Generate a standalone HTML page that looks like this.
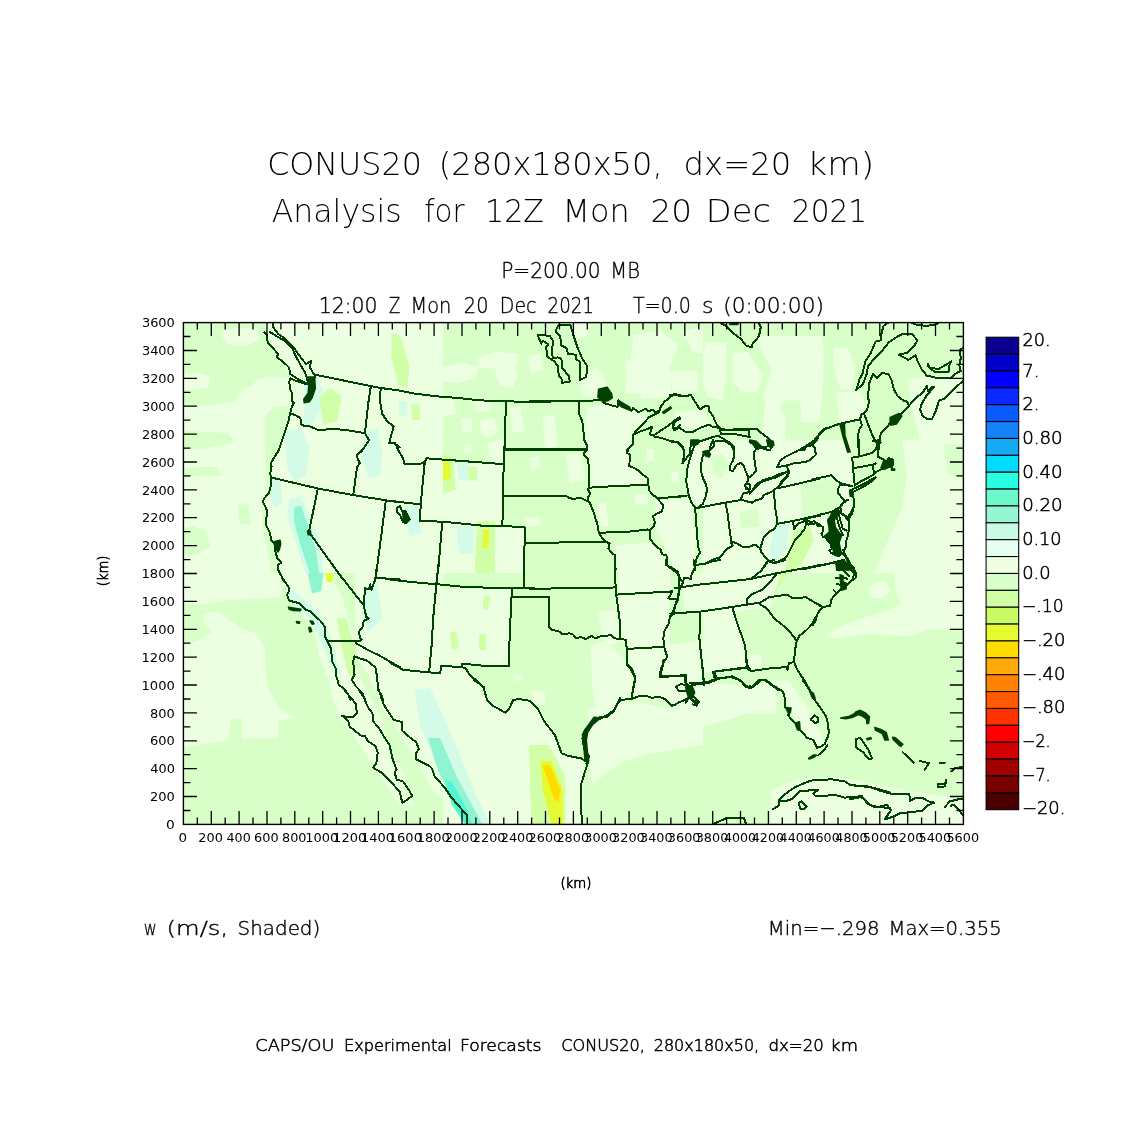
<!DOCTYPE html><html><head><meta charset="utf-8"><title>CONUS20 w</title><style>html,body{margin:0;padding:0;background:#fff;width:1148px;height:1148px;overflow:hidden}svg{display:block}.t{font-family:"DejaVu Sans","Liberation Sans",sans-serif;font-weight:200;fill:#000}.b{font-family:"DejaVu Sans","Liberation Sans",sans-serif;font-weight:400;fill:#000}</style></head><body>
<svg width="1148" height="1148" viewBox="0 0 1148 1148">
<rect width="1148" height="1148" fill="#fff"/>
<defs><clipPath id="mc"><rect x="183.4" y="322.6" width="780.0" height="501.79999999999995"/></clipPath></defs>
<rect x="183.4" y="322.6" width="780.0" height="501.79999999999995" fill="#d8ffc8"/>
<g clip-path="url(#mc)"><path d="M222.6 331.1 237.4 327.7 257.7 328.8 260.0 340.1 246.4 345.8 228.3 344.7 222.6 337.9Z" fill="#ecffe0"/><path d="M183.0 374.1 196.6 373.0 210.2 376.4 207.9 387.7 192.1 390.0 183.0 390.0Z" fill="#ecffe0"/><path d="M183.0 405.8 210.2 405.8 235.1 401.3 241.9 390.0 251.0 385.4 260.0 378.6 273.6 376.4 289.5 378.6 289.5 405.8 273.6 406.9 264.5 417.1 264.5 448.8 266.8 480.6 262.3 503.2 262.3 525.9 266.8 548.5 271.3 573.0 183.0 573.0 183.0 555.3 196.6 555.3 210.2 546.2 205.7 530.4 192.1 525.9 183.0 528.1 183.0 478.3 196.6 476.0 221.5 476.0 217.0 467.0 196.6 467.0 183.0 469.2 183.0 448.8 205.7 448.8 234.0 442.0 228.3 433.0 183.0 430.7Z" fill="#ecffe0"/><path d="M264.5 322.0 443.0 322.0 443.0 573.0 278.1 573.0 273.6 548.5 266.8 525.9 263.4 500.9 269.1 480.6 271.3 462.4 280.4 444.3 289.5 419.4 289.5 376.4 269.1 340.1Z" fill="#ecffe0"/><path d="M237.4 503.2 248.7 505.5 251.0 525.9 239.6 523.6Z" fill="#d8ffc8"/><path d="M303.0 378.6 316.6 376.4 323.4 390.0 318.9 412.6 309.8 428.5 303.0 421.7 305.3 401.3Z" fill="#d4fbe8"/><path d="M284.9 430.7 300.8 428.5 309.8 448.8 305.3 476.0 294.0 480.6 287.2 467.0Z" fill="#d4fbe8"/><path d="M364.2 430.7 377.8 428.5 382.3 448.8 380.1 476.0 368.7 478.3 361.9 457.9Z" fill="#d4fbe8"/><path d="M270.2 478.3 280.4 480.6 282.7 503.2 273.6 507.7 269.1 494.1Z" fill="#d4fbe8"/><path d="M289.5 498.7 300.8 496.4 309.8 516.8 318.9 537.2 323.4 573.0 305.3 573.0 296.3 544.0 287.2 516.8Z" fill="#d4fbe8"/><path d="M294.0 507.7 300.8 505.5 309.8 530.4 316.6 553.0 318.9 573.0 309.8 573.0 300.8 546.2 294.0 521.3Z" fill="#8ef5d0"/><path d="M391.4 333.3 400.4 335.6 409.5 367.3 407.2 387.7 398.2 385.4 391.4 356.0Z" fill="#d0ffa8"/><path d="M318.9 396.7 330.2 387.7 341.6 396.7 337.0 421.7 323.4 423.9Z" fill="#d0ffa8"/><path d="M477.0 358.2 495.1 351.4 517.7 353.7 517.7 365.0 499.6 369.6 479.2 367.3Z" fill="#ecffe0"/><path d="M497.4 360.5 511.0 358.2 517.7 374.1 513.2 387.7 499.6 385.4 495.1 371.8Z" fill="#ecffe0"/><path d="M443.0 367.3 461.1 362.8 479.2 367.3 474.7 378.6 456.6 383.2 443.0 380.9Z" fill="#ecffe0"/><path d="M526.8 356.0 540.4 353.7 542.7 369.6 531.3 374.1Z" fill="#ecffe0"/><path d="M633.3 335.6 660.4 331.1 678.6 344.7 669.5 367.3 671.8 396.7 642.3 399.0 628.7 378.6 631.0 356.0Z" fill="#ecffe0"/><path d="M683.1 331.1 703.0 326.5 703.0 353.7 692.2 351.4Z" fill="#ecffe0"/><path d="M569.8 322.0 590.2 322.0 588.0 335.6 574.4 340.1Z" fill="#ecffe0"/><path d="M578.9 376.4 597.0 367.3 606.1 380.9 601.6 396.7 583.4 396.7Z" fill="#ecffe0"/><path d="M508.7 408.1 520.0 405.8 524.5 430.7 513.2 433.0Z" fill="#ecffe0"/><path d="M542.7 417.1 554.0 414.9 558.5 446.6 544.9 448.8Z" fill="#ecffe0"/><path d="M529.1 457.9 538.1 455.6 540.4 467.0 531.3 469.2Z" fill="#ecffe0"/><path d="M565.3 453.4 581.2 453.4 585.7 480.6 569.8 482.8Z" fill="#ecffe0"/><path d="M588.0 408.1 615.1 401.3 631.0 410.3 646.9 417.1 633.3 430.7 628.7 448.8 635.5 469.2 646.9 480.6 642.3 485.1 590.2 487.3 590.2 457.9 583.4 435.3Z" fill="#ecffe0"/><path d="M635.5 494.1 646.9 494.1 648.0 503.2 636.7 504.3Z" fill="#ecffe0"/><path d="M597.0 503.2 606.1 503.2 608.3 525.9 599.3 525.9Z" fill="#ecffe0"/><path d="M524.5 519.1 538.1 516.8 540.4 525.9 526.8 527.0Z" fill="#ecffe0"/><path d="M443.0 462.4 503.0 464.7 501.9 525.9 524.5 528.1 524.5 573.0 443.0 573.0Z" fill="#ecffe0"/><path d="M443.0 453.4 453.2 457.9 455.5 489.6 443.0 494.1Z" fill="#d0ffa8"/><path d="M443.0 457.9 449.8 461.3 450.9 478.3 443.0 480.6Z" fill="#e6fa32"/><path d="M456.6 462.4 467.9 462.4 467.9 480.6 458.9 480.6Z" fill="#d4fbe8"/><path d="M467.9 467.0 477.0 467.0 477.0 480.6 469.0 480.6Z" fill="#d0ffa8"/><path d="M477.0 521.3 495.1 521.3 495.1 573.0 474.7 573.0Z" fill="#d0ffa8"/><path d="M483.3 529.2 489.4 529.2 488.3 548.5 482.0 547.4Z" fill="#e6fa32"/><path d="M706.1 342.4 726.5 342.4 726.5 376.9 721.8 400.4 707.7 397.3 703.0 384.7 703.0 353.4Z" fill="#ecffe0"/><path d="M732.8 353.4 746.9 351.8 762.6 375.3 757.9 392.6 740.6 391.0 732.8 381.6Z" fill="#ecffe0"/><path d="M756.3 336.1 822.2 336.1 823.7 361.2 822.2 400.4 803.3 400.4 784.5 400.4 778.3 409.8 762.6 397.3 772.0 369.0 762.6 353.4Z" fill="#ecffe0"/><path d="M765.7 400.4 778.3 403.5 786.1 419.2 784.5 452.0 765.7 452.0 762.6 431.8Z" fill="#ecffe0"/><path d="M800.2 397.3 822.2 400.4 819.0 422.3 801.8 422.3Z" fill="#ecffe0"/><path d="M833.1 348.7 847.2 347.1 855.1 365.9 851.9 389.4 841.0 389.4 834.7 373.7Z" fill="#ecffe0"/><path d="M836.3 392.6 859.8 391.0 867.6 409.8 859.8 422.3 839.4 422.3Z" fill="#ecffe0"/><path d="M703.0 440.0 850.2 440.0 852.5 485.3 850.2 514.7 848.0 541.9 843.4 573.0 703.0 573.0Z" fill="#ecffe0"/><path d="M800.4 483.0 836.6 478.5 841.2 508.0 829.8 514.7 802.7 517.0Z" fill="#d8ffc8"/><path d="M712.1 453.6 727.9 455.9 730.2 474.0 716.6 476.2Z" fill="#d8ffc8"/><path d="M739.2 512.5 757.4 508.0 759.6 526.1 741.5 528.3Z" fill="#d8ffc8"/><path d="M775.5 526.1 789.1 523.8 786.8 548.7 773.2 562.3 768.7 553.3Z" fill="#d4fbe8"/><path d="M793.6 530.6 809.5 526.1 814.0 539.7 802.7 562.3 791.3 573.0 784.5 573.0Z" fill="#d0ffa8"/><path d="M902.3 440.0 963.0 440.0 963.0 573.0 875.1 573.0 884.2 548.7 902.3 508.0 906.9 474.0Z" fill="#ecffe0"/><path d="M943.1 440.0 963.0 440.0 963.0 478.5 947.6 474.0Z" fill="#d8ffc8"/><path d="M183.0 573.0 280.4 573.0 282.7 595.7 273.6 597.9 228.3 600.2 196.6 604.7 183.0 602.4Z" fill="#ecffe0"/><path d="M203.4 613.8 217.0 611.5 244.2 629.6 257.7 634.2 264.5 647.7 266.8 686.3 280.4 708.9 296.3 718.0 278.1 720.2 278.1 738.3 241.9 738.3 241.9 718.0 230.6 720.2 228.3 740.6 183.0 747.4 183.0 643.2 196.6 641.0 212.4 631.9 203.4 622.8Z" fill="#ecffe0"/><path d="M282.7 573.0 328.0 573.0 341.6 595.7 355.1 641.0 355.1 663.6 364.2 686.3 382.3 720.2 386.9 742.9 405.0 776.9 414.0 806.3 400.4 806.3 377.8 772.3 359.7 745.1 341.6 720.2 332.5 699.8 328.0 677.2 318.9 654.5 314.4 631.9 300.8 611.5 287.2 595.7Z" fill="#ecffe0"/><path d="M355.1 573.0 443.0 573.0 443.0 799.5 432.2 790.4 420.8 767.8 409.5 749.7 395.9 727.0 382.3 708.9 368.7 674.9 357.4 659.1 355.1 641.0Z" fill="#ecffe0"/><path d="M287.2 586.6 305.3 600.2 323.4 618.3 332.5 641.0 337.0 663.6 341.6 672.7 334.8 674.9 328.0 659.1 318.9 636.4 309.8 618.3 289.5 600.2Z" fill="#d4fbe8"/><path d="M337.0 618.3 346.1 618.3 355.1 647.7 355.1 677.2 348.3 674.9 341.6 647.7Z" fill="#d0ffa8"/><path d="M307.6 573.0 323.4 573.0 321.2 591.1 312.1 593.4Z" fill="#8ef5d0"/><path d="M325.7 573.0 332.5 573.0 332.5 582.1 326.8 582.1Z" fill="#e6fa32"/><path d="M364.2 586.6 377.8 584.3 382.3 618.3 368.7 631.9 361.9 613.8Z" fill="#d4fbe8"/><path d="M443.0 588.9 511.0 588.9 509.8 665.9 461.1 663.6 443.0 665.9Z" fill="#ecffe0"/><path d="M449.8 631.9 456.6 631.9 458.9 647.7 452.1 650.0Z" fill="#d0ffa8"/><path d="M479.2 634.2 486.0 634.2 486.0 650.0 479.2 650.0Z" fill="#d0ffa8"/><path d="M483.8 595.7 490.6 595.7 488.3 609.2 482.6 609.2Z" fill="#d0ffa8"/><path d="M590.2 645.5 606.1 641.0 624.2 659.1 633.3 681.7 631.0 699.8 615.1 708.9 597.0 713.4 592.5 690.8Z" fill="#ecffe0"/><path d="M531.3 690.8 544.9 690.8 546.1 704.4 533.6 705.5Z" fill="#ecffe0"/><path d="M513.2 674.9 522.3 674.9 522.3 680.6 513.2 680.6Z" fill="#ecffe0"/><path d="M617.4 595.7 669.5 593.4 669.5 645.5 624.2 647.7 619.7 622.8Z" fill="#ecffe0"/><path d="M628.7 647.7 662.7 645.5 703.0 641.0 703.0 708.9 680.8 708.9 658.2 699.8 635.5 699.8Z" fill="#ecffe0"/><path d="M443.0 665.9 461.1 663.6 486.0 697.6 506.4 711.2 513.2 702.1 531.3 702.1 556.3 736.1 560.8 754.2 583.4 761.0 583.4 824.0 443.0 824.0Z" fill="#ecffe0"/><path d="M529.1 745.1 549.5 745.1 565.3 776.9 565.3 824.0 531.3 824.0Z" fill="#d0ffa8"/><path d="M540.4 761.0 551.7 761.0 563.0 790.4 563.0 824.0 551.7 824.0 542.7 788.2Z" fill="#e6fa32"/><path d="M542.7 765.5 549.5 764.4 560.8 790.4 558.5 801.8 554.0 799.5Z" fill="#ffdc00"/><path d="M588.0 708.9 615.1 704.4 637.8 702.1 669.5 708.9 703.0 708.9 703.0 745.1 646.9 754.2 624.2 761.0 592.5 783.6 588.0 754.2Z" fill="#ecffe0"/><path d="M703.0 607.0 732.4 607.0 743.8 641.0 748.3 668.1 703.0 672.7Z" fill="#ecffe0"/><path d="M748.3 654.5 761.9 654.5 761.9 668.1 748.3 668.1Z" fill="#ecffe0"/><path d="M743.8 577.5 759.6 573.0 777.7 573.0 761.9 591.1 748.3 609.2 741.5 607.0Z" fill="#d4fbe8"/><path d="M759.6 586.6 777.7 573.0 789.1 573.0 771.0 597.9 759.6 600.2Z" fill="#d0ffa8"/><path d="M771.0 679.5 780.0 690.8 789.1 708.9 800.4 727.0 816.3 747.4 825.3 747.4 816.3 720.2 802.7 699.8 789.1 681.7Z" fill="#ecffe0"/><path d="M703.0 681.7 748.3 686.3 771.0 681.7 777.7 699.8 775.5 713.4 748.3 713.4 703.0 727.0Z" fill="#ecffe0"/><path d="M825.3 636.4 838.9 627.4 861.6 618.3 884.2 611.5 906.9 602.4 929.5 597.9 963.0 595.7 963.0 627.4 929.5 629.6 906.9 636.4 884.2 634.2 861.6 634.2 838.9 638.7Z" fill="#ecffe0"/><path d="M893.3 573.0 963.0 573.0 963.0 595.7 929.5 597.9 902.3 607.0 895.5 591.1Z" fill="#ecffe0"/><path d="M868.3 586.6 884.2 579.8 891.0 591.1 881.9 597.9 870.6 597.9Z" fill="#ecffe0"/><path d="M771.0 790.4 798.1 779.1 838.9 776.9 884.2 785.9 929.5 795.0 963.0 797.2 963.0 824.0 771.0 824.0Z" fill="#ecffe0"/><path d="M687.1 441.9 697.6 440.1 713.2 443.6 732.4 447.1 734.1 457.6 728.9 471.5 739.4 464.5 748.1 475.0 742.9 492.4 722.0 499.4 697.6 506.3 688.9 492.4 685.4 464.5Z" fill="#ecffe0"/><path d="M711.5 457.6 722.0 454.1 728.9 464.5 722.0 478.5 713.2 475.0Z" fill="#d8ffc8"/><path d="M647.0 448.9 654.0 448.9 654.0 461.0 647.0 461.0Z" fill="#ecffe0"/><path d="M613.9 469.8 626.1 469.8 626.1 482.0 613.9 482.0Z" fill="#ecffe0"/><path d="M671.4 471.5 678.4 471.5 678.4 482.0 671.4 482.0Z" fill="#ecffe0"/><path d="M634.8 494.1 645.3 494.1 645.3 502.9 634.8 502.9Z" fill="#ecffe0"/><path d="M674.9 412.3 704.5 410.5 711.5 426.2 690.6 431.4 676.7 427.9Z" fill="#ecffe0"/><path d="M626.1 360.0 657.5 360.0 657.5 380.9 643.6 394.8 626.1 393.1Z" fill="#ecffe0"/><path d="M669.7 370.5 697.6 370.5 697.6 391.4 673.2 394.8Z" fill="#ecffe0"/><path d="M414.0 690.0 430.0 688.0 445.0 720.0 462.0 760.0 476.0 795.0 490.0 824.0 465.0 824.0 450.0 795.0 434.0 760.0 420.0 725.0Z" fill="#d4fbe8"/><path d="M428.0 738.0 440.0 738.0 456.0 775.0 472.0 805.0 482.0 824.0 466.0 824.0 452.0 800.0 438.0 770.0Z" fill="#8ef5d0"/><path d="M445.0 780.0 452.0 782.0 466.0 808.0 472.0 824.0 465.0 824.0 452.0 805.0Z" fill="#50f5d8"/><path d="M615.0 545.0 650.0 543.0 668.0 560.0 672.0 590.0 650.0 595.0 620.0 595.0Z" fill="#ecffe0"/><path d="M655.0 500.0 690.0 498.0 696.0 540.0 692.0 575.0 680.0 580.0 668.0 555.0 657.0 530.0Z" fill="#ecffe0"/><path d="M598.0 612.0 615.0 610.0 622.0 640.0 605.0 648.0Z" fill="#ecffe0"/><path d="M680.0 578.0 760.0 560.0 780.0 575.0 770.0 608.0 700.0 615.0 685.0 610.0Z" fill="#ecffe0"/><path d="M435.2 400.9 452.7 399.2 456.1 414.8 440.5 416.6Z" fill="#ecffe0"/><path d="M461.4 418.3 471.8 418.3 471.8 432.2 462.2 432.2Z" fill="#ecffe0"/><path d="M464.8 444.4 471.8 444.4 471.8 453.1 464.8 453.1Z" fill="#ecffe0"/><path d="M473.5 397.4 491.0 399.2 489.2 411.3 475.3 411.3Z" fill="#ecffe0"/><path d="M480.5 420.0 494.4 418.3 497.9 432.2 487.5 437.5 480.5 432.2Z" fill="#ecffe0"/><path d="M487.5 442.7 503.1 439.2 503.1 461.8 491.0 461.8Z" fill="#ecffe0"/><path d="M424.8 432.2 438.7 428.8 438.7 456.6 426.5 458.4Z" fill="#ecffe0"/><path d="M398.7 400.9 407.4 400.9 407.4 414.8 399.5 416.6Z" fill="#d4fbe8"/><path d="M410.9 404.4 419.6 404.4 420.4 420.0 412.6 420.0Z" fill="#d0ffa8"/><path d="M456.1 526.3 473.5 526.3 473.5 554.1 459.6 554.1Z" fill="#d4fbe8"/><path d="M403.9 505.4 417.8 505.4 421.3 533.2 409.1 536.7Z" fill="#d4fbe8"/><path d="M907.5 378.8 963.0 374.5 963.0 444.4 920.6 444.4 911.8 409.5Z" fill="#ecffe0"/></g>
<g clip-path="url(#mc)"><path d="M307.5 376.9 314.7 376.9 315.3 388.6 312.1 397.8 309.5 401.7 304.2 402.8 303.8 399.1 308.1 393.2 308.8 384.7ZM598.6 389.3 607.1 387.3 611.7 393.9 612.3 397.8 608.4 400.4 603.2 401.7 600.6 400.4 597.9 397.1ZM618.2 400.4 621.5 402.4 629.3 406.9 631.3 410.9 628.0 409.5 621.5 406.9 618.9 404.3ZM662.6 412.2 670.5 406.9 671.4 408.2 663.9 413.5ZM729.5 323.3 737.9 323.3 737.9 324.6 730.1 324.6ZM890.1 417.4 899.2 413.5 901.9 416.1 896.6 423.9 890.1 425.2ZM839.8 423.9 844.4 423.9 845.0 435.7 850.2 452.0 847.6 452.0 843.1 437.0ZM274.8 541.5 280.1 540.2 280.7 544.1 279.4 549.3 278.1 551.9 275.5 549.3 274.2 544.1ZM307.5 531.0 310.4 530.4 310.8 534.9 308.1 534.7ZM402.4 510.6 405.7 511.2 409.6 519.1 405.7 523.0 403.7 521.7ZM690.9 440.0 698.7 440.0 698.1 443.9 693.5 445.9 691.6 443.9ZM702.7 451.8 707.9 450.5 710.5 454.4 709.2 457.0 705.3 455.7ZM749.7 440.0 756.2 441.3 761.5 446.5 757.5 449.1 753.6 445.2ZM766.7 440.0 773.2 441.3 773.9 445.2 770.6 447.8 768.0 445.2ZM883.6 460.9 891.4 459.6 893.0 464.2 888.8 467.4 884.2 469.4 880.9 468.1ZM891.4 468.7 894.7 469.0 894.7 470.3 891.7 470.3ZM849.6 490.3 852.2 489.7 853.5 494.9 850.2 496.2ZM288.5 607.2 293.1 607.9 301.0 609.2 300.3 610.8 293.1 610.5 289.2 609.2ZM296.4 621.6 299.7 622.0 299.4 623.3 296.8 622.9ZM310.1 621.0 312.5 621.2 314.0 623.8 312.1 624.2ZM308.8 627.5 310.4 627.5 311.7 631.4 309.8 632.1ZM594.1 717.2 600.7 717.9 592.8 724.4 587.6 732.3 586.3 740.1 587.6 753.2 588.9 761.0 585.0 759.7 583.7 745.3 582.4 734.9 585.0 729.7ZM785.7 707.4 791.0 708.1 790.3 712.7 788.3 713.3ZM794.9 723.1 799.5 721.8 800.1 730.3 797.5 729.7ZM809.3 690.5 813.2 693.1 815.1 698.3 812.5 698.3ZM808.6 758.4 813.2 755.1 816.4 755.1 814.5 757.1 809.3 759.1ZM840.6 717.9 848.5 716.6 853.7 714.2 856.3 711.6 860.2 710.3 865.4 712.9 869.4 716.8 868.7 723.1 867.0 723.8 866.5 719.2 862.8 716.3 858.3 714.6 853.0 717.2 845.8 718.7ZM875.9 728.3 879.8 729.0 885.0 732.3 888.3 740.1 885.0 740.1 882.4 733.6 875.9 730.3ZM866.7 738.8 870.7 737.5 871.3 738.8 867.4 739.8ZM874.8 727.5 881.3 729.7 886.2 732.4 888.3 740.0 885.6 740.0 882.9 734.6 880.2 731.3 875.4 730.2ZM892.7 737.3 895.4 737.8 899.7 741.6 902.9 744.3 900.8 746.4 898.1 744.3 893.2 739.4ZM832.4 511.6 836.7 509.1 839.8 511.0 839.1 515.2 835.5 516.5 834.3 521.3 835.5 527.4 838.5 531.7 841.6 535.4 840.4 539.0 839.1 542.7 840.4 548.8 841.6 553.7 839.1 556.1 835.5 555.5 833.7 552.4 832.4 546.3 830.6 542.7 827.0 539.0 824.5 536.0 827.0 534.1 829.4 531.7 828.8 526.2 827.6 520.1 830.6 515.9ZM836.1 563.4 841.6 561.6 844.6 561.0 848.9 564.6 853.2 567.7 853.2 570.0 836.7 570.0ZM837.9 565.1 841.4 564.4 842.8 567.9 839.3 570.7 837.9 569.3ZM840.0 574.8 843.4 576.2 842.8 581.8 846.2 583.2 846.2 588.8 841.4 590.2 840.7 584.6ZM685.5 686.9 692.0 686.0 694.7 692.2 692.4 697.9 688.5 697.5 686.9 692.2Z" fill="#004000" stroke="#004000" stroke-width="1.5" stroke-linejoin="round"/><path d="M264.4 332.5 267.0 335.1 267.6 342.3 278.1 354.0 276.8 357.0 284.6 363.2 289.2 367.7 289.9 373.6 298.3 379.5 302.3 381.5 307.5 383.4M269.6 331.8 276.8 336.4 284.0 340.3 291.8 347.5 295.7 356.0 300.3 364.5 304.9 372.3 306.8 378.2 308.1 383.4M272.9 322.0 273.3 327.2 278.1 333.8 284.6 338.3 293.1 346.8 301.6 358.6 306.2 364.1 311.4 360.9 309.8 367.1 312.7 372.3 314.3 374.3 315.3 376.9M314.3 374.5 370.2 386.0 380.7 388.0 400.0 390.6M370.9 386.0 368.3 403.0 365.0 433.1 368.9 440.3 365.0 446.1 361.1 452.0M380.7 388.0 380.0 400.4 382.0 413.5 387.2 421.3 393.7 426.5 391.1 435.7 389.2 443.5 393.7 442.9 400.0 447.4M290.5 378.2 289.2 382.1 290.5 389.9 291.8 392.6 291.6 400.4 293.8 403.0 291.8 406.9 290.5 412.2 289.9 413.5 288.5 421.3 285.3 430.5 280.1 446.1 278.1 452.0M290.5 378.4 295.7 380.8 301.6 382.5 307.5 384.5M289.9 413.5 295.1 415.0 300.3 418.0 301.6 425.2 310.1 426.5 317.9 429.8 336.2 429.1 349.3 430.5 365.0 433.1M400.0 390.6 414.4 393.6 435.3 396.2 456.2 397.8 477.1 400.1 494.1 401.1 505.8 401.4 550.0 402.0M505.8 401.4 505.2 433.1 504.5 450.7M504.5 449.4 550.0 449.4M537.8 335.1 549.6 335.7 553.5 341.6 551.6 350.1 552.9 358.6 557.4 357.3 561.4 358.6 562.0 367.7 568.5 375.6 569.9 381.5 562.0 382.8 561.4 378.2 558.7 375.6 558.1 366.4 554.2 361.2 547.0 356.6 546.3 346.8 548.3 344.2 543.1 340.9 541.1 343.6 537.8 335.1M558.7 324.6 570.5 325.3 573.1 334.4 577.7 348.1 582.9 359.9 587.5 366.4 586.2 376.9 579.7 380.1 579.7 361.2 576.4 359.9 575.7 354.7 567.9 354.0 566.6 348.1 561.4 345.5 560.1 336.4 555.5 331.1 558.7 324.6M530.0 401.1 565.3 401.1 597.9 400.4M579.0 401.1 579.0 413.5 582.3 421.3 583.6 433.1 584.2 439.6 587.5 447.4 586.8 450.1M530.0 449.4 586.8 449.4M597.9 400.4 601.2 399.1 603.8 403.0 608.4 404.3 614.9 406.3 617.5 406.9 618.2 400.4 621.5 403.0 629.3 408.2 631.3 410.9 633.2 408.2 638.5 412.2 645.6 408.9 647.6 410.9 652.8 410.2 655.4 412.2 659.4 410.9 660.7 406.9 664.6 401.7 671.1 396.5 673.7 393.9 680.0 395.2M659.4 412.2 655.4 414.1 648.9 417.4 643.7 423.3 638.5 428.5 633.2 434.4 633.2 443.5 629.3 447.4 626.7 450.7M633.2 434.4 641.1 431.1 647.6 429.1 652.2 426.5 650.9 431.1 649.6 434.4 653.5 435.7 660.7 430.5 667.2 426.5 673.7 421.3 677.7 418.0 680.0 417.4M653.5 436.3 662.0 438.3 668.5 440.3 673.7 441.6 680.0 443.5M680.0 418.7 675.0 421.3 673.1 426.5 675.0 429.1 680.0 425.2M721.0 323.3 726.2 325.9 734.0 333.8 741.2 339.0 745.8 345.5 751.7 347.5 752.3 344.2 758.9 336.4 760.8 327.2 758.9 323.3M670.0 395.2 675.2 394.5 680.5 396.5 690.9 395.2 694.2 400.4 697.4 405.6 700.1 409.5 702.7 406.9 708.5 405.6 709.2 410.9 713.1 416.1 715.1 421.3 717.7 425.9 719.7 427.8M680.5 418.0 675.2 420.0 672.6 426.5 673.9 430.5 679.1 427.8 685.7 431.8 692.2 432.4 700.1 427.8 709.2 424.6 711.8 426.5 718.3 427.8M719.7 429.1 728.8 429.8 737.9 429.1 748.4 429.1 757.5 429.1 761.5 433.1 766.7 437.0 770.6 440.9 773.2 445.5M720.3 430.5 748.4 429.8 749.7 437.0 743.2 435.7 732.7 433.7 721.0 434.4 720.3 430.5M749.7 441.6 754.9 442.2 761.5 447.4 769.3 446.1 773.2 444.8M670.0 440.9 677.8 442.2 683.1 447.4 684.4 452.0M689.6 452.0 691.6 440.9 697.4 442.2 713.1 437.0 718.3 435.7 728.8 442.2 734.0 447.4 734.0 452.0M713.1 439.6 710.5 446.1 709.2 452.0M795.4 452.0 805.9 446.1 813.7 440.9 820.0 433.1M856.1 389.9 858.1 384.7 859.4 379.5 862.7 373.0 865.3 361.2 870.5 353.4 875.7 341.6 880.9 340.3 881.6 332.5 883.6 325.9 887.5 323.3M856.1 389.9 862.7 384.7 866.6 374.3 867.9 366.4 874.4 358.6 882.3 350.7 888.8 342.3 896.6 337.0 903.2 333.8 912.3 334.4 917.5 340.3 913.6 346.8 907.1 352.7 898.6 354.7 908.4 359.9 915.6 355.3 917.5 361.2 921.5 369.0 926.7 375.6 938.4 378.2 950.2 378.2 956.7 373.0 960.7 371.0 959.3 365.1 960.7 358.6 960.0 349.4 963.0 348.1M928.0 363.8 929.3 367.7 938.4 369.0 947.6 363.8 951.5 361.2 948.9 366.4 948.9 371.7 934.5 371.7 928.0 366.4 928.0 363.8M912.3 323.3 917.5 324.9 926.7 325.9 935.8 324.6 938.4 323.3M873.1 373.6 877.0 378.2 882.3 373.0 888.8 374.3 891.4 379.5 894.0 389.9 897.9 396.5 903.2 400.4 907.1 401.7 909.0 405.6M873.1 373.6 869.2 383.4 867.9 397.8 869.2 401.7 866.6 410.9 861.3 414.8M864.0 413.5 867.9 423.9 873.1 437.0 877.0 443.5 878.3 452.0M909.0 405.6 904.5 410.9 897.9 416.1 891.4 421.3 886.2 427.8 880.9 433.1 879.6 439.6 878.3 452.0M909.0 405.6 916.2 397.8 922.8 392.6 926.7 386.0 928.0 391.3 931.9 387.3 934.5 386.7 926.7 395.2 921.5 404.3 920.1 409.5 922.8 416.1 928.0 419.3 931.9 419.3 935.8 410.9 939.1 400.4 943.7 399.1 951.5 391.3 963.0 380.8M813.0 443.5 818.2 435.7 824.8 429.1 839.1 423.9 860.0 419.3 861.3 414.8M860.0 419.3 862.0 425.2 858.7 430.5 858.1 439.6 858.7 452.0M278.7 450.0 270.9 463.1 271.6 467.0 270.3 472.9 270.9 478.1 270.9 485.3 268.9 493.1 263.7 499.0 263.1 502.3 266.3 508.8 267.6 514.0 265.7 519.3 266.3 525.8 270.3 533.6 270.9 540.2 274.8 544.1 275.5 551.9 277.4 558.5 281.4 562.4 278.1 565.0 278.1 570.2 281.4 575.4 282.7 580.0M270.9 477.4 317.9 488.5 353.2 495.1 385.9 500.3 400.0 502.3M317.9 488.5 308.8 532.3 310.1 533.6 343.4 580.0M362.4 450.0 356.5 455.9 359.8 463.1 357.1 467.0 353.2 495.1M385.9 500.3 375.4 580.0M375.4 577.8 400.0 579.4M390.0 442.6 395.2 443.3 399.1 451.8 403.1 458.3 404.4 463.5 407.0 464.2 410.9 463.5 421.4 463.5 424.0 462.2 426.6 458.3M426.6 458.3 460.6 460.9 494.5 463.5 503.7 463.5M426.6 458.3 424.6 463.5 420.7 504.0 420.1 521.0M390.0 500.8 410.9 503.4 420.7 504.0M420.1 521.0 443.6 521.7 481.5 525.6 502.4 526.2M505.0 440.0 504.3 449.1 503.7 463.5 503.0 496.2 502.4 526.2M504.3 449.8 540.0 449.8M503.0 496.2 540.0 496.2M502.4 526.2 524.6 526.9 524.6 542.6 540.0 542.6M524.6 542.6 523.9 570.0M442.3 521.7 438.3 570.0M396.5 507.9 399.8 506.0 401.8 510.6 405.7 511.2 409.6 519.1 405.7 523.0 403.1 522.3 400.5 515.8 396.5 511.2 396.5 507.9M530.0 449.8 586.8 449.8M584.2 440.0 586.8 445.2 586.8 449.8 584.2 453.1 584.2 455.7 587.5 458.3 588.8 466.1 588.8 487.0 588.1 489.7 590.1 493.6 588.1 497.5 587.5 500.8 590.1 503.4 594.0 513.2 595.3 518.4 597.3 523.6 598.6 531.5 601.2 536.7 605.8 541.9 609.7 543.2 608.4 548.5 611.0 552.4 614.9 555.0 615.6 570.0M530.0 496.2 566.6 496.2 569.2 498.1 573.1 498.8 581.0 498.1 587.5 501.4M588.8 487.7 621.5 485.7 648.3 485.1M633.2 440.0 633.2 443.9 628.0 449.1 627.3 453.1 630.0 454.4 629.3 466.1 634.5 468.1 639.8 471.4 643.7 475.3 647.6 477.9 648.3 485.1 649.6 491.0 652.8 494.9 656.7 497.5 659.4 500.8 663.3 505.3 662.0 511.2 656.7 513.8 652.8 516.4 654.8 521.7 654.1 526.2 649.6 530.2 649.6 538.0 655.4 545.8 660.7 549.8 662.0 554.3 665.9 555.0 667.2 557.6 667.2 565.4 673.7 570.0M657.4 498.1 680.0 496.8M599.3 532.8 630.6 531.5 647.6 529.5 649.6 530.2M530.0 543.2 584.9 541.9 605.8 541.9M670.0 441.3 677.8 442.6 683.1 447.8 684.4 454.4 682.4 463.5 688.3 455.7 692.2 450.5 694.8 445.2 697.4 441.3M693.5 447.8 689.6 459.6 687.0 470.1 686.3 481.8 688.3 492.3 688.9 496.2 691.6 502.7 694.8 507.3 697.4 507.9 702.7 504.0 705.3 497.5 707.2 489.7 705.9 484.4 703.3 479.2 701.4 472.7 700.7 467.4 702.0 458.3 704.0 453.1 709.2 455.7 709.2 450.5 714.4 445.2 713.8 442.0 717.0 440.7M670.0 497.5 687.0 495.5M717.0 440.7 724.9 441.3 731.4 445.2 734.0 450.5 734.0 457.0 732.7 460.9 730.1 466.1 730.1 470.1 732.7 471.4 736.6 464.8 740.6 462.9 743.2 464.8 745.8 471.4 748.4 477.9 753.6 474.0 756.2 470.7 754.9 463.5 753.6 453.1 756.2 449.1 753.6 443.9 749.7 442.0M756.2 449.1 761.5 447.8 769.3 450.5 773.2 445.2M748.4 477.9 747.1 483.1 745.1 485.7 748.4 489.7 750.4 488.3 748.4 492.3 743.2 493.6 740.6 499.5M745.1 484.4 749.7 484.4 750.4 488.3 745.8 489.0 745.1 484.4M749.7 493.6 756.2 487.0 761.5 481.8 769.3 479.2 774.5 477.9 779.8 475.3 785.0 472.7 788.3 471.4M740.6 499.5 747.1 501.4 752.3 502.7 756.2 500.1 761.5 498.8 764.1 494.9 771.9 491.6 774.5 489.7 779.8 485.7 783.7 480.5 787.6 476.6 788.9 471.4M697.4 507.9 724.9 502.7 740.6 500.1M694.8 507.3 695.5 513.2 696.8 531.5 698.1 547.1 700.1 552.4 696.8 557.6 694.8 565.4 694.8 570.0M725.5 502.7 727.5 513.2 731.4 543.2 732.7 545.8 727.5 548.5 724.9 551.1 722.3 555.0 719.7 557.6 714.4 558.9 709.2 561.5 705.3 564.1 700.1 564.1 696.1 565.4M732.7 541.9 736.6 543.2 741.9 546.5 748.4 547.1 754.9 544.5 760.2 548.5 761.5 544.5 763.4 538.0 766.7 534.1 769.3 531.5 774.5 528.9 777.1 523.6 777.1 518.4 775.8 513.2 774.5 498.8 773.9 489.7M778.5 523.6 792.8 521.0 805.9 518.4 820.0 515.8M792.8 521.0 794.1 528.9 798.1 523.6 804.6 521.0 808.5 524.9 813.7 521.0 820.0 524.9M806.5 523.0 804.6 528.9 800.7 534.1 795.4 539.3 792.8 544.5 789.6 551.1 787.6 555.0 783.7 558.9 778.5 561.5 774.5 563.5 770.6 561.5 768.0 560.2M760.2 548.5 761.5 552.4 765.4 557.6 768.0 560.2 761.5 570.0M800.7 569.4 820.0 564.8M780.4 487.7 800.7 483.1 820.0 478.5M858.7 440.0 858.7 447.8 859.4 455.7M852.2 457.6 860.0 456.3 871.8 453.1 875.7 449.1 877.7 445.2 878.3 440.0M872.5 441.3 878.3 440.7 880.9 442.6 877.7 445.2M878.3 450.5 878.3 457.0 883.6 459.6 886.2 462.2 888.8 458.3 892.7 459.6 893.4 464.8 891.4 467.4 887.5 466.1 883.6 468.7 879.6 470.1 877.0 471.4M852.9 468.1 865.3 466.1 874.4 464.2 875.7 463.5M872.5 464.8 874.4 474.0M852.2 457.6 853.5 472.7 854.8 485.7M854.8 485.1 860.0 481.8 867.9 477.9 874.4 474.0 877.0 471.4M851.5 489.7 857.4 487.0 865.3 483.1 871.8 479.2 875.7 477.2 873.1 480.5 865.3 485.7 857.4 489.7 852.2 492.3 851.5 489.7M850.9 494.9 853.5 497.5 854.2 505.3 852.2 513.2 849.6 517.1 847.6 519.7 844.4 515.8 840.4 513.2 837.8 509.3 843.1 502.7 845.7 501.4 841.7 497.5 838.5 493.6 837.8 489.7 839.8 485.1 852.2 485.7M813.0 479.2 831.3 475.3 836.5 480.5 840.4 483.1 850.9 485.7M278.1 570.0 284.0 580.5 288.5 587.0 289.2 590.9 287.2 594.8 289.2 600.7 299.7 603.3 304.9 609.2 311.4 611.8 314.0 615.1 320.6 621.0 324.5 626.2 325.1 636.6 327.1 640.6 331.0 648.4 332.3 661.5 335.6 668.0 336.2 675.8 338.9 685.0 344.1 688.9 348.0 694.1 350.6 700.0M336.2 570.0 349.3 587.0 363.7 605.3M363.7 605.3 366.3 617.0 368.9 618.3 363.7 621.0 362.4 627.5 359.1 631.4 359.8 637.9 361.7 639.3 359.8 641.2M363.7 605.3 365.0 588.3 368.9 588.9 370.2 584.4 371.5 589.6 375.4 579.1 376.1 570.0M376.1 577.8 400.0 579.8M327.1 640.6 341.5 641.2 359.8 641.2M355.8 643.2 367.6 649.7 380.7 656.2 400.0 667.3M354.5 656.2 353.2 661.5 354.5 674.5 351.9 679.8 355.8 686.3 362.4 692.8 365.0 700.0M354.5 656.2 361.1 658.9 366.3 660.2 375.4 667.3 376.7 674.5 378.1 687.6 382.0 700.0M439.0 560.0 436.4 583.5M390.0 579.6 413.5 582.2 436.4 584.2 463.2 586.8 499.8 588.1 523.9 588.1 540.0 588.7M523.9 560.0 523.9 588.1M511.5 589.4 511.5 597.2 540.0 597.2M436.4 584.2 433.1 618.8 431.8 643.6 429.2 671.1M511.5 597.2 509.6 637.1 508.9 665.8 484.1 665.8 471.0 664.5 461.9 663.9 461.9 667.1 465.8 668.5 469.7 675.0 476.2 680.2 484.1 687.4 484.1 690.0M461.9 667.1 441.0 665.8 440.3 673.0 429.2 672.4M390.0 662.6 403.1 669.8 429.2 672.4M530.0 588.7 597.9 588.1 615.6 587.4M614.9 560.0 615.6 587.4 616.2 594.6 619.5 618.8 620.2 639.1M616.2 594.6 672.4 591.4 668.5 598.5 676.3 598.5M530.0 597.2 548.9 597.2 548.9 626.6 552.2 629.9 558.7 631.2 562.7 634.5 569.2 633.2 573.1 634.5 575.7 638.4 581.0 637.1 586.2 639.1 591.4 635.8 595.3 638.4 600.6 636.4 605.8 635.8 611.0 635.1 614.9 638.4 620.2 639.1 626.0 639.7 626.7 648.9 626.7 664.5 630.6 668.5 634.5 676.3 634.5 682.8 633.2 690.0M626.7 648.9 663.3 646.9M665.9 560.0 665.9 564.6 673.7 570.5 678.3 574.4 679.0 579.6 679.0 588.7 678.3 599.2 675.0 605.7 673.7 613.6 669.8 617.5 668.5 624.0 664.6 630.6 663.3 638.4 664.6 648.9 667.2 656.7 663.3 663.2 662.0 668.5 660.7 676.3 680.0 675.6M673.7 613.6 680.0 612.9M670.0 566.5 677.8 571.8 680.5 579.6 683.1 582.9 679.1 590.1 677.2 599.2 674.6 607.0 672.6 612.3 670.0 616.2M693.5 560.0 694.8 567.8 691.6 574.4 690.9 578.9 684.4 577.6 682.4 583.5 679.8 588.1M693.5 565.2 704.0 563.9 713.1 561.3 719.7 560.0M675.2 588.1 697.4 584.8 722.3 582.2 751.0 578.9 774.5 573.7 820.0 565.2M751.0 578.9 761.5 570.5 768.0 561.3 774.5 560.0M768.0 561.3 773.2 562.6 781.1 561.3 785.0 560.0M775.8 575.0 769.3 582.9 761.5 590.1 752.3 594.0 747.1 599.2 747.1 603.8M670.0 613.6 700.1 611.6 732.1 607.0 760.2 602.5M760.2 602.5 769.3 597.2 787.6 594.6 792.8 598.5 805.9 597.2 820.0 605.7M700.1 611.6 699.4 638.4 702.7 671.1 704.0 685.4M732.1 607.0 737.9 625.3 744.5 643.6 745.8 651.5 747.1 664.5 751.0 671.1M760.2 604.4 766.7 608.3 774.5 618.8 779.8 622.7 787.6 629.3 794.1 637.1 796.7 641.0M820.0 609.7 816.3 616.2 811.1 625.3 805.9 630.6 799.4 635.8 796.7 641.0 794.8 651.5 794.1 661.9 796.7 668.5 800.7 675.0 805.9 682.8 809.8 690.0M751.0 671.1 769.3 668.5 786.3 667.1 787.6 669.8 788.9 663.2 794.1 661.9M713.1 671.7 748.4 667.1M713.1 671.7 714.4 677.6M689.6 682.8 700.1 682.8 709.2 681.5 715.7 678.9 724.9 677.6 732.7 676.3 740.6 680.2 745.8 685.4 751.0 688.1 758.9 680.2 764.1 679.6 771.9 685.4 778.5 690.0M670.0 676.3 685.7 675.0 686.3 682.8 689.6 689.4M843.1 550.0 847.0 557.8 852.2 567.0 855.5 572.2 855.5 578.1 850.9 581.4 845.7 586.6 839.1 590.5 835.2 594.4 831.3 599.7 830.0 606.2 822.8 606.8 819.5 610.1 816.9 615.3 815.6 620.6 813.0 625.1M813.0 567.0 826.1 564.4 844.4 559.8M813.0 601.6 822.8 606.8M344.4 690.0 350.9 697.8 356.1 704.4 356.8 713.5 352.2 717.4 347.0 717.4 341.8 715.5 348.3 721.4 349.6 726.6 356.1 731.8 361.4 735.7 365.3 736.4 367.9 741.0 375.7 746.2 377.7 752.7 376.4 763.2 373.1 767.7 381.0 772.3 387.5 778.9 394.0 785.4 399.9 791.9 401.2 798.5 402.5 803.0 412.3 795.8 408.4 789.3 403.2 781.5 396.6 779.5 394.7 772.3 396.6 769.7 392.7 759.3 389.5 744.9 384.9 738.3 379.0 727.9 373.1 721.4 372.5 713.5 367.9 707.0 364.0 697.8 358.7 690.0M378.3 690.0 382.3 696.5 383.6 704.4 394.0 720.1 402.5 722.0 401.9 730.5 411.0 738.3 416.2 742.3 418.9 748.8 415.6 754.0 416.2 759.3 429.3 765.8 431.9 768.4 434.5 776.2 445.0 788.0 450.2 795.8 456.7 803.7 467.2 815.4 467.2 824.1M473.9 680.0 483.1 686.5 487.0 699.6 493.5 706.1 505.3 712.7 509.2 708.7 513.1 700.3 518.3 698.9 530.1 700.9 537.9 708.7 544.5 721.8 554.9 734.9 561.5 753.2 568.0 755.8 581.1 758.4 587.6 762.3 586.3 763.6M620.0 698.3 613.7 711.4 607.2 716.6 595.4 717.9 592.8 723.1 585.0 729.7 582.4 738.8 585.0 751.9 588.9 755.8 587.6 763.6 585.0 771.5 581.1 784.5 581.1 810.7 582.4 823.7M626.8 660.0 627.4 663.9 631.4 667.8 635.3 677.0 634.0 683.5 632.7 691.4 631.4 699.2M600.0 718.8 607.8 714.9 614.4 709.7 617.0 704.4 620.9 700.5 626.1 699.2 631.4 699.2 639.2 695.9 645.7 695.9 652.3 697.9 658.8 696.6 665.3 699.2 671.9 705.7 675.8 704.4 678.4 702.5 683.6 700.5 688.9 697.9 694.1 700.5 698.0 703.1 696.7 705.7 692.8 704.4M663.4 660.0 662.5 665.2 661.4 667.8 660.1 673.1 660.1 677.0 684.9 675.7 684.9 682.2 688.9 686.1M688.9 686.1 694.1 684.8 703.2 683.5 708.5 682.9 713.7 680.9 720.2 678.3 730.7 677.0 738.5 679.6 743.7 683.5 746.3 687.4 750.0 686.1M701.9 660.0 703.2 675.7 704.5 683.5M713.7 671.8 746.3 667.8 750.0 670.5M713.7 671.8 716.3 677.0 717.6 678.3M745.7 660.0 747.7 667.8M740.0 680.0 745.2 686.5 750.5 688.5 757.0 683.9 760.9 680.0M766.1 680.0 772.7 685.2 779.2 689.1 783.1 691.8 785.1 699.6 785.1 707.4 789.7 711.4 788.3 715.3 792.3 720.5 797.5 724.4 798.8 729.7 804.0 733.6 806.6 737.5 813.2 740.1 815.8 745.3 817.1 747.9 821.0 746.6 824.9 744.0 826.2 740.1 827.5 737.5 828.9 732.3 827.5 721.8 826.2 716.6 821.0 708.7 814.5 699.6 810.6 691.8 805.3 683.9 802.7 680.0M811.2 719.2 814.5 715.3 817.7 717.9 818.4 721.8 815.1 723.1 811.2 719.9M818.4 755.1 823.6 750.6 827.5 745.3M856.3 738.8 860.2 738.1 862.8 741.4 868.1 749.3 872.0 758.4 868.7 759.1 862.8 751.9 856.3 747.9 856.3 738.8M772.7 809.4 779.2 805.4 779.2 800.2 785.7 793.7 794.9 787.1 810.6 780.6 831.5 779.3 844.5 781.3 851.1 785.2 870.7 787.1 890.0 792.4M779.2 800.2 784.4 801.5 792.3 798.9 800.1 791.1 818.4 789.8 813.2 793.7 815.8 796.3 835.4 795.0 844.5 797.6 860.2 796.3 865.4 800.2 870.7 805.4 877.2 806.7 890.0 808.1M798.8 802.8 801.4 801.5 806.6 806.7 804.0 809.4 800.1 808.7 798.8 802.8M902.9 752.4 913.7 762.6M920.2 761.0 928.9 763.2 924.5 770.2M939.7 762.6 945.1 762.6M951.5 771.3 954.8 768.0 963.4 767.0M937.5 783.7 945.1 783.7 946.1 779.9 945.1 786.4 937.5 787.5 937.5 783.7M850.0 785.3 866.2 785.9 880.2 790.7 893.2 794.5 909.4 794.0 909.9 801.0 914.8 798.3 923.4 798.3 928.9 801.5 934.3 802.6 927.8 805.3 922.4 810.7 910.5 812.3 899.7 813.4 893.2 816.7 884.6 819.4 891.0 810.2 886.7 804.8 875.9 807.5 867.3 803.7 861.9 796.1 856.5 798.3 850.0 798.8M945.1 806.9 949.4 801.5 958.0 799.4 963.4 799.4M950.5 805.9 953.7 804.8 958.0 809.1 963.4 815.6M712.9 824.1 725.9 818.4 744.2 818.4 746.0 824.1M777.0 467.5 780.5 460.1 785.7 456.6 792.7 453.1 797.9 450.5 804.0 450.1 806.7 446.1 811.9 445.3 814.9 447.9 815.8 454.8 810.1 460.1 805.8 461.8 799.7 462.7 792.7 463.6 787.5 465.3 782.3 466.2 777.0 467.5M811.9 445.3 817.1 440.0 819.7 433.1 824.1 428.7 830.0 427.4M786.6 465.7 789.2 472.3 785.7 477.5 780.5 482.7 778.8 487.9M786.6 472.3 778.8 474.0 771.8 477.5 763.1 480.1 756.1 484.5 752.6 490.0M805.0 518.3 812.9 516.5 820.2 514.6 832.4 511.6 836.7 508.5 840.4 507.3 842.8 503.7 844.6 501.2 847.7 500.0M805.0 520.1 808.7 520.7 812.9 524.4 816.0 523.2 817.2 525.6 823.3 526.8 823.3 531.1 821.5 533.5 822.7 536.6 825.7 537.2 827.0 540.2 830.6 543.9 831.8 548.8 829.4 550.6 831.2 553.0 835.5 554.9 839.1 556.1 841.6 553.7M840.4 507.3 841.6 513.4 847.7 517.1 848.9 520.1 848.9 529.3 847.7 536.6 846.5 539.6 845.9 546.3 844.0 551.8 842.8 553.7M839.1 515.9 842.8 528.7 846.5 530.5M836.7 517.1 839.1 526.2 842.8 535.4M847.7 517.1 851.3 512.2 853.8 506.1 854.4 500.0M805.0 568.9 817.2 565.9 829.4 563.4 841.6 561.6 844.6 561.0M841.6 553.7 844.6 554.9 847.7 561.0 850.1 564.6 853.8 567.7 854.4 570.0M836.5 564.4 842.8 563.0 849.0 566.5 852.5 571.4M837.2 570.0 841.4 569.3 846.2 572.8 849.0 576.2M835.8 578.3 842.8 576.9 847.6 579.0M836.5 583.9 842.1 585.3 846.9 584.6M833.7 590.2 836.5 593.0M843.4 563.0 849.7 569.3 853.9 572.8 853.2 579.0 846.2 585.3M675.9 686.9 680.5 684.1 687.4 685.3 686.9 690.6 679.3 691.5 675.9 686.9M690.1 697.5 696.6 704.8M692.4 695.6 699.3 702.1M688.5 697.9 685.5 703.0" fill="none" stroke="#004000" stroke-width="2" stroke-linejoin="round" stroke-linecap="round" shape-rendering="crispEdges"/></g>
<path d="M197.3 824.4V817.4M197.3 322.6V329.6M211.3 824.4V810.9M211.3 322.6V336.1M225.2 824.4V817.4M225.2 322.6V329.6M239.1 824.4V810.9M239.1 322.6V336.1M253.0 824.4V817.4M253.0 322.6V329.6M267.0 824.4V810.9M267.0 322.6V336.1M280.9 824.4V817.4M280.9 322.6V329.6M294.8 824.4V810.9M294.8 322.6V336.1M308.8 824.4V817.4M308.8 322.6V329.6M322.7 824.4V810.9M322.7 322.6V336.1M336.6 824.4V817.4M336.6 322.6V329.6M350.5 824.4V810.9M350.5 322.6V336.1M364.5 824.4V817.4M364.5 322.6V329.6M378.4 824.4V810.9M378.4 322.6V336.1M392.3 824.4V817.4M392.3 322.6V329.6M406.3 824.4V810.9M406.3 322.6V336.1M420.2 824.4V817.4M420.2 322.6V329.6M434.1 824.4V810.9M434.1 322.6V336.1M448.0 824.4V817.4M448.0 322.6V329.6M462.0 824.4V810.9M462.0 322.6V336.1M475.9 824.4V817.4M475.9 322.6V329.6M489.8 824.4V810.9M489.8 322.6V336.1M503.8 824.4V817.4M503.8 322.6V329.6M517.7 824.4V810.9M517.7 322.6V336.1M531.6 824.4V817.4M531.6 322.6V329.6M545.5 824.4V810.9M545.5 322.6V336.1M559.5 824.4V817.4M559.5 322.6V329.6M573.4 824.4V810.9M573.4 322.6V336.1M587.3 824.4V817.4M587.3 322.6V329.6M601.3 824.4V810.9M601.3 322.6V336.1M615.2 824.4V817.4M615.2 322.6V329.6M629.1 824.4V810.9M629.1 322.6V336.1M643.0 824.4V817.4M643.0 322.6V329.6M657.0 824.4V810.9M657.0 322.6V336.1M670.9 824.4V817.4M670.9 322.6V329.6M684.8 824.4V810.9M684.8 322.6V336.1M698.8 824.4V817.4M698.8 322.6V329.6M712.7 824.4V810.9M712.7 322.6V336.1M726.6 824.4V817.4M726.6 322.6V329.6M740.5 824.4V810.9M740.5 322.6V336.1M754.5 824.4V817.4M754.5 322.6V329.6M768.4 824.4V810.9M768.4 322.6V336.1M782.3 824.4V817.4M782.3 322.6V329.6M796.3 824.4V810.9M796.3 322.6V336.1M810.2 824.4V817.4M810.2 322.6V329.6M824.1 824.4V810.9M824.1 322.6V336.1M838.0 824.4V817.4M838.0 322.6V329.6M852.0 824.4V810.9M852.0 322.6V336.1M865.9 824.4V817.4M865.9 322.6V329.6M879.8 824.4V810.9M879.8 322.6V336.1M893.8 824.4V817.4M893.8 322.6V329.6M907.7 824.4V810.9M907.7 322.6V336.1M921.6 824.4V817.4M921.6 322.6V329.6M935.5 824.4V810.9M935.5 322.6V336.1M949.5 824.4V817.4M949.5 322.6V329.6M183.4 810.5H190.4M963.4 810.5H956.4M183.4 796.5H196.9M963.4 796.5H949.9M183.4 782.6H190.4M963.4 782.6H956.4M183.4 768.6H196.9M963.4 768.6H949.9M183.4 754.7H190.4M963.4 754.7H956.4M183.4 740.8H196.9M963.4 740.8H949.9M183.4 726.8H190.4M963.4 726.8H956.4M183.4 712.9H196.9M963.4 712.9H949.9M183.4 699.0H190.4M963.4 699.0H956.4M183.4 685.0H196.9M963.4 685.0H949.9M183.4 671.1H190.4M963.4 671.1H956.4M183.4 657.1H196.9M963.4 657.1H949.9M183.4 643.2H190.4M963.4 643.2H956.4M183.4 629.3H196.9M963.4 629.3H949.9M183.4 615.3H190.4M963.4 615.3H956.4M183.4 601.4H196.9M963.4 601.4H949.9M183.4 587.4H190.4M963.4 587.4H956.4M183.4 573.5H196.9M963.4 573.5H949.9M183.4 559.6H190.4M963.4 559.6H956.4M183.4 545.6H196.9M963.4 545.6H949.9M183.4 531.7H190.4M963.4 531.7H956.4M183.4 517.7H196.9M963.4 517.7H949.9M183.4 503.8H190.4M963.4 503.8H956.4M183.4 489.9H196.9M963.4 489.9H949.9M183.4 475.9H190.4M963.4 475.9H956.4M183.4 462.0H196.9M963.4 462.0H949.9M183.4 448.1H190.4M963.4 448.1H956.4M183.4 434.1H196.9M963.4 434.1H949.9M183.4 420.2H190.4M963.4 420.2H956.4M183.4 406.2H196.9M963.4 406.2H949.9M183.4 392.3H190.4M963.4 392.3H956.4M183.4 378.4H196.9M963.4 378.4H949.9M183.4 364.4H190.4M963.4 364.4H956.4M183.4 350.5H196.9M963.4 350.5H949.9M183.4 336.5H190.4M963.4 336.5H956.4" stroke="#000" stroke-width="1.3" fill="none"/>
<rect x="183.4" y="322.6" width="780.0" height="501.79999999999995" fill="none" stroke="#000" stroke-width="1.4"/>
<g><text class="b" x="178.51" y="841.7" textLength="8.59" lengthAdjust="spacingAndGlyphs" font-size="12.4">0</text><text class="b" x="198.31" y="841.7" textLength="24.60" lengthAdjust="spacingAndGlyphs" font-size="12.4">200</text><text class="b" x="226.49" y="841.7" textLength="24.26" lengthAdjust="spacingAndGlyphs" font-size="12.4">400</text><text class="b" x="254.07" y="841.7" textLength="24.55" lengthAdjust="spacingAndGlyphs" font-size="12.4">600</text><text class="b" x="281.96" y="841.7" textLength="24.53" lengthAdjust="spacingAndGlyphs" font-size="12.4">800</text><text class="b" x="305.26" y="841.7" textLength="33.09" lengthAdjust="spacingAndGlyphs" font-size="12.4">1000</text><text class="b" x="333.11" y="841.7" textLength="33.09" lengthAdjust="spacingAndGlyphs" font-size="12.4">1200</text><text class="b" x="360.97" y="841.7" textLength="33.09" lengthAdjust="spacingAndGlyphs" font-size="12.4">1400</text><text class="b" x="388.83" y="841.7" textLength="33.09" lengthAdjust="spacingAndGlyphs" font-size="12.4">1600</text><text class="b" x="416.69" y="841.7" textLength="33.09" lengthAdjust="spacingAndGlyphs" font-size="12.4">1800</text><text class="b" x="445.03" y="841.7" textLength="32.59" lengthAdjust="spacingAndGlyphs" font-size="12.4">2000</text><text class="b" x="472.89" y="841.7" textLength="32.59" lengthAdjust="spacingAndGlyphs" font-size="12.4">2200</text><text class="b" x="500.75" y="841.7" textLength="32.59" lengthAdjust="spacingAndGlyphs" font-size="12.4">2400</text><text class="b" x="528.60" y="841.7" textLength="32.59" lengthAdjust="spacingAndGlyphs" font-size="12.4">2600</text><text class="b" x="556.46" y="841.7" textLength="32.59" lengthAdjust="spacingAndGlyphs" font-size="12.4">2800</text><text class="b" x="584.28" y="841.7" textLength="32.63" lengthAdjust="spacingAndGlyphs" font-size="12.4">3000</text><text class="b" x="612.14" y="841.7" textLength="32.63" lengthAdjust="spacingAndGlyphs" font-size="12.4">3200</text><text class="b" x="639.99" y="841.7" textLength="32.63" lengthAdjust="spacingAndGlyphs" font-size="12.4">3400</text><text class="b" x="667.85" y="841.7" textLength="32.63" lengthAdjust="spacingAndGlyphs" font-size="12.4">3600</text><text class="b" x="695.71" y="841.7" textLength="32.63" lengthAdjust="spacingAndGlyphs" font-size="12.4">3800</text><text class="b" x="723.92" y="841.7" textLength="32.26" lengthAdjust="spacingAndGlyphs" font-size="12.4">4000</text><text class="b" x="751.78" y="841.7" textLength="32.26" lengthAdjust="spacingAndGlyphs" font-size="12.4">4200</text><text class="b" x="779.64" y="841.7" textLength="32.26" lengthAdjust="spacingAndGlyphs" font-size="12.4">4400</text><text class="b" x="807.50" y="841.7" textLength="32.26" lengthAdjust="spacingAndGlyphs" font-size="12.4">4600</text><text class="b" x="835.35" y="841.7" textLength="32.26" lengthAdjust="spacingAndGlyphs" font-size="12.4">4800</text><text class="b" x="862.84" y="841.7" textLength="32.64" lengthAdjust="spacingAndGlyphs" font-size="12.4">5000</text><text class="b" x="890.70" y="841.7" textLength="32.64" lengthAdjust="spacingAndGlyphs" font-size="12.4">5200</text><text class="b" x="918.55" y="841.7" textLength="32.64" lengthAdjust="spacingAndGlyphs" font-size="12.4">5400</text><text class="b" x="946.41" y="841.7" textLength="32.64" lengthAdjust="spacingAndGlyphs" font-size="12.4">5600</text><text class="b" x="166.14" y="829.0" textLength="8.78" lengthAdjust="spacingAndGlyphs" font-size="12.4">0</text><text class="b" x="150.00" y="801.1" textLength="24.87" lengthAdjust="spacingAndGlyphs" font-size="12.4">200</text><text class="b" x="150.32" y="773.2" textLength="24.53" lengthAdjust="spacingAndGlyphs" font-size="12.4">400</text><text class="b" x="150.04" y="745.4" textLength="24.82" lengthAdjust="spacingAndGlyphs" font-size="12.4">600</text><text class="b" x="150.07" y="717.5" textLength="24.79" lengthAdjust="spacingAndGlyphs" font-size="12.4">800</text><text class="b" x="141.46" y="689.6" textLength="33.41" lengthAdjust="spacingAndGlyphs" font-size="12.4">1000</text><text class="b" x="141.46" y="661.7" textLength="33.41" lengthAdjust="spacingAndGlyphs" font-size="12.4">1200</text><text class="b" x="141.46" y="633.9" textLength="33.41" lengthAdjust="spacingAndGlyphs" font-size="12.4">1400</text><text class="b" x="141.46" y="606.0" textLength="33.41" lengthAdjust="spacingAndGlyphs" font-size="12.4">1600</text><text class="b" x="141.46" y="578.1" textLength="33.41" lengthAdjust="spacingAndGlyphs" font-size="12.4">1800</text><text class="b" x="141.95" y="550.2" textLength="32.91" lengthAdjust="spacingAndGlyphs" font-size="12.4">2000</text><text class="b" x="141.95" y="522.3" textLength="32.91" lengthAdjust="spacingAndGlyphs" font-size="12.4">2200</text><text class="b" x="141.95" y="494.5" textLength="32.91" lengthAdjust="spacingAndGlyphs" font-size="12.4">2400</text><text class="b" x="141.95" y="466.6" textLength="32.91" lengthAdjust="spacingAndGlyphs" font-size="12.4">2600</text><text class="b" x="141.95" y="438.7" textLength="32.91" lengthAdjust="spacingAndGlyphs" font-size="12.4">2800</text><text class="b" x="141.91" y="410.8" textLength="32.95" lengthAdjust="spacingAndGlyphs" font-size="12.4">3000</text><text class="b" x="141.91" y="383.0" textLength="32.95" lengthAdjust="spacingAndGlyphs" font-size="12.4">3200</text><text class="b" x="141.91" y="355.1" textLength="32.95" lengthAdjust="spacingAndGlyphs" font-size="12.4">3400</text><text class="b" x="141.91" y="327.2" textLength="32.95" lengthAdjust="spacingAndGlyphs" font-size="12.4">3600</text></g>
<g><text class="t" x="267.16" y="175" textLength="154.68" lengthAdjust="spacingAndGlyphs" font-size="31.55">CONUS20</text><text class="t" x="438.79" y="175" textLength="223.83" lengthAdjust="spacingAndGlyphs" font-size="31.55">(280x180x50,</text><text class="t" x="683.63" y="175" textLength="107.66" lengthAdjust="spacingAndGlyphs" font-size="31.55">dx=20</text><text class="t" x="807.25" y="175" textLength="66.80" lengthAdjust="spacingAndGlyphs" font-size="31.55">km)</text></g>
<g><text class="t" x="271.76" y="222" textLength="129.90" lengthAdjust="spacingAndGlyphs" font-size="31.55">Analysis</text><text class="t" x="424.27" y="222" textLength="40.36" lengthAdjust="spacingAndGlyphs" font-size="31.55">for</text><text class="t" x="484.99" y="222" textLength="58.96" lengthAdjust="spacingAndGlyphs" font-size="31.55">12Z</text><text class="t" x="562.58" y="222" textLength="67.14" lengthAdjust="spacingAndGlyphs" font-size="31.55">Mon</text><text class="t" x="650.54" y="222" textLength="41.49" lengthAdjust="spacingAndGlyphs" font-size="31.55">20</text><text class="t" x="705.81" y="222" textLength="65.07" lengthAdjust="spacingAndGlyphs" font-size="31.55">Dec</text><text class="t" x="791.85" y="222" textLength="75.20" lengthAdjust="spacingAndGlyphs" font-size="31.55">2021</text></g>
<g><text class="t" x="501.14" y="277.8" textLength="99.53" lengthAdjust="spacingAndGlyphs" font-size="20.6" stroke="#000" stroke-width="0.36">P=200.00</text><text class="t" x="610.37" y="277.8" textLength="29.55" lengthAdjust="spacingAndGlyphs" font-size="20.6" stroke="#000" stroke-width="0.36">MB</text></g>
<g><text class="t" x="318.65" y="312.8" textLength="58.94" lengthAdjust="spacingAndGlyphs" font-size="20.6" stroke="#000" stroke-width="0.36">12:00</text><text class="t" x="388.96" y="312.8" textLength="11.28" lengthAdjust="spacingAndGlyphs" font-size="20.6" stroke="#000" stroke-width="0.36">Z</text><text class="t" x="410.59" y="312.8" textLength="40.79" lengthAdjust="spacingAndGlyphs" font-size="20.6" stroke="#000" stroke-width="0.36">Mon</text><text class="t" x="463.86" y="312.8" textLength="24.64" lengthAdjust="spacingAndGlyphs" font-size="20.6" stroke="#000" stroke-width="0.36">20</text><text class="t" x="499.79" y="312.8" textLength="36.79" lengthAdjust="spacingAndGlyphs" font-size="20.6" stroke="#000" stroke-width="0.36">Dec</text><text class="t" x="547.54" y="312.8" textLength="46.39" lengthAdjust="spacingAndGlyphs" font-size="20.6" stroke="#000" stroke-width="0.36">2021</text><text class="t" x="633.08" y="312.8" textLength="57.68" lengthAdjust="spacingAndGlyphs" font-size="20.6" stroke="#000" stroke-width="0.36">T=0.0</text><text class="t" x="702.13" y="312.8" textLength="11.56" lengthAdjust="spacingAndGlyphs" font-size="20.6" stroke="#000" stroke-width="0.36">s</text><text class="t" x="723.33" y="312.8" textLength="100.61" lengthAdjust="spacingAndGlyphs" font-size="20.6" stroke="#000" stroke-width="0.36">(0:00:00)</text></g>
<g><text class="t" x="143.79" y="934.5" textLength="12.97" lengthAdjust="spacingAndGlyphs" font-size="19.5" stroke="#000" stroke-width="0.41">w</text><text class="t" x="166.55" y="934.5" textLength="61.62" lengthAdjust="spacingAndGlyphs" font-size="19.5" stroke="#000" stroke-width="0.41">(m/s,</text><text class="t" x="237.63" y="934.5" textLength="82.61" lengthAdjust="spacingAndGlyphs" font-size="19.5" stroke="#000" stroke-width="0.41">Shaded)</text></g>
<g><text class="t" x="767.74" y="934.6" textLength="111.73" lengthAdjust="spacingAndGlyphs" font-size="19.5" stroke="#000" stroke-width="0.41">Min=−.298</text><text class="t" x="888.55" y="934.6" textLength="113.13" lengthAdjust="spacingAndGlyphs" font-size="19.5" stroke="#000" stroke-width="0.41">Max=0.355</text></g>
<g><text class="t" x="255.33" y="1051" textLength="79.04" lengthAdjust="spacingAndGlyphs" font-size="16.7" stroke="#000" stroke-width="0.55">CAPS/OU</text><text class="t" x="343.93" y="1051" textLength="107.80" lengthAdjust="spacingAndGlyphs" font-size="16.7" stroke="#000" stroke-width="0.55">Experimental</text><text class="t" x="459.93" y="1051" textLength="81.59" lengthAdjust="spacingAndGlyphs" font-size="16.7" stroke="#000" stroke-width="0.55">Forecasts</text><text class="t" x="561.26" y="1051" textLength="83.71" lengthAdjust="spacingAndGlyphs" font-size="16.7" stroke="#000" stroke-width="0.55">CONUS20,</text><text class="t" x="653.79" y="1051" textLength="105.36" lengthAdjust="spacingAndGlyphs" font-size="16.7" stroke="#000" stroke-width="0.55">280x180x50,</text><text class="t" x="768.38" y="1051" textLength="55.46" lengthAdjust="spacingAndGlyphs" font-size="16.7" stroke="#000" stroke-width="0.55">dx=20</text><text class="t" x="830.38" y="1051" textLength="27.61" lengthAdjust="spacingAndGlyphs" font-size="16.7" stroke="#000" stroke-width="0.55">km</text></g>
<g><text class="t" x="560.45" y="887.5" textLength="31.02" lengthAdjust="spacingAndGlyphs" font-size="14" stroke="#000" stroke-width="0.68">(km)</text></g>
<text class="t" transform="translate(107.8 584.8) rotate(-90)" x="-1.43" y="0" textLength="30.58" lengthAdjust="spacingAndGlyphs" font-size="14" stroke="#000" stroke-width="0.68">(km)</text>
<rect x="986.1" y="337.20" width="32.60000000000002" height="16.88" fill="#0c0090" stroke="#000" stroke-width="1.05"/>
<rect x="986.1" y="354.07" width="32.60000000000002" height="16.88" fill="#0000c8" stroke="#000" stroke-width="1.05"/>
<rect x="986.1" y="370.95" width="32.60000000000002" height="16.88" fill="#0000ff" stroke="#000" stroke-width="1.05"/>
<rect x="986.1" y="387.82" width="32.60000000000002" height="16.88" fill="#0a28ff" stroke="#000" stroke-width="1.05"/>
<rect x="986.1" y="404.70" width="32.60000000000002" height="16.88" fill="#0a5aff" stroke="#000" stroke-width="1.05"/>
<rect x="986.1" y="421.57" width="32.60000000000002" height="16.88" fill="#1482fa" stroke="#000" stroke-width="1.05"/>
<rect x="986.1" y="438.45" width="32.60000000000002" height="16.88" fill="#14aaf5" stroke="#000" stroke-width="1.05"/>
<rect x="986.1" y="455.33" width="32.60000000000002" height="16.88" fill="#00dcff" stroke="#000" stroke-width="1.05"/>
<rect x="986.1" y="472.20" width="32.60000000000002" height="16.88" fill="#28ffe0" stroke="#000" stroke-width="1.05"/>
<rect x="986.1" y="489.08" width="32.60000000000002" height="16.88" fill="#6cf8ca" stroke="#000" stroke-width="1.05"/>
<rect x="986.1" y="505.95" width="32.60000000000002" height="16.88" fill="#96f5d2" stroke="#000" stroke-width="1.05"/>
<rect x="986.1" y="522.83" width="32.60000000000002" height="16.88" fill="#c8fae6" stroke="#000" stroke-width="1.05"/>
<rect x="986.1" y="539.70" width="32.60000000000002" height="16.88" fill="#e6fff0" stroke="#000" stroke-width="1.05"/>
<rect x="986.1" y="556.58" width="32.60000000000002" height="16.88" fill="#f0ffe1" stroke="#000" stroke-width="1.05"/>
<rect x="986.1" y="573.45" width="32.60000000000002" height="16.88" fill="#d8ffc8" stroke="#000" stroke-width="1.05"/>
<rect x="986.1" y="590.33" width="32.60000000000002" height="16.88" fill="#d0ffa8" stroke="#000" stroke-width="1.05"/>
<rect x="986.1" y="607.20" width="32.60000000000002" height="16.88" fill="#c8fa64" stroke="#000" stroke-width="1.05"/>
<rect x="986.1" y="624.08" width="32.60000000000002" height="16.88" fill="#e6fa32" stroke="#000" stroke-width="1.05"/>
<rect x="986.1" y="640.95" width="32.60000000000002" height="16.88" fill="#ffdc00" stroke="#000" stroke-width="1.05"/>
<rect x="986.1" y="657.83" width="32.60000000000002" height="16.88" fill="#ffaa0a" stroke="#000" stroke-width="1.05"/>
<rect x="986.1" y="674.70" width="32.60000000000002" height="16.88" fill="#ff8200" stroke="#000" stroke-width="1.05"/>
<rect x="986.1" y="691.58" width="32.60000000000002" height="16.88" fill="#ff5a00" stroke="#000" stroke-width="1.05"/>
<rect x="986.1" y="708.45" width="32.60000000000002" height="16.88" fill="#ff3200" stroke="#000" stroke-width="1.05"/>
<rect x="986.1" y="725.33" width="32.60000000000002" height="16.88" fill="#ff0000" stroke="#000" stroke-width="1.05"/>
<rect x="986.1" y="742.20" width="32.60000000000002" height="16.88" fill="#d20000" stroke="#000" stroke-width="1.05"/>
<rect x="986.1" y="759.08" width="32.60000000000002" height="16.88" fill="#a00000" stroke="#000" stroke-width="1.05"/>
<rect x="986.1" y="775.95" width="32.60000000000002" height="16.88" fill="#780000" stroke="#000" stroke-width="1.05"/>
<rect x="986.1" y="792.83" width="32.60000000000002" height="16.88" fill="#4b0000" stroke="#000" stroke-width="1.05"/>
<g><text class="t" x="1022.57" y="345.8" textLength="28.10" lengthAdjust="spacingAndGlyphs" font-size="17.2" stroke="#000" stroke-width="0.52">20.</text><text class="t" x="1022.32" y="376.8" textLength="17.20" lengthAdjust="spacingAndGlyphs" font-size="17.2" stroke="#000" stroke-width="0.52">7.</text><text class="t" x="1022.57" y="410.4" textLength="16.91" lengthAdjust="spacingAndGlyphs" font-size="17.2" stroke="#000" stroke-width="0.52">2.</text><text class="t" x="1022.17" y="444.1" textLength="40.51" lengthAdjust="spacingAndGlyphs" font-size="17.2" stroke="#000" stroke-width="0.52">0.80</text><text class="t" x="1022.17" y="477.7" textLength="40.51" lengthAdjust="spacingAndGlyphs" font-size="17.2" stroke="#000" stroke-width="0.52">0.40</text><text class="t" x="1022.17" y="511.4" textLength="40.51" lengthAdjust="spacingAndGlyphs" font-size="17.2" stroke="#000" stroke-width="0.52">0.20</text><text class="t" x="1022.22" y="545.1" textLength="39.42" lengthAdjust="spacingAndGlyphs" font-size="17.2" stroke="#000" stroke-width="0.52">0.10</text><text class="t" x="1022.20" y="578.7" textLength="28.46" lengthAdjust="spacingAndGlyphs" font-size="17.2" stroke="#000" stroke-width="0.52">0.0</text><text class="t" x="1021.98" y="612.4" textLength="41.61" lengthAdjust="spacingAndGlyphs" font-size="17.2" stroke="#000" stroke-width="0.52">−.10</text><text class="t" x="1021.90" y="646.0" textLength="43.57" lengthAdjust="spacingAndGlyphs" font-size="17.2" stroke="#000" stroke-width="0.52">−.20</text><text class="t" x="1021.90" y="679.7" textLength="43.57" lengthAdjust="spacingAndGlyphs" font-size="17.2" stroke="#000" stroke-width="0.52">−.40</text><text class="t" x="1021.90" y="713.4" textLength="43.57" lengthAdjust="spacingAndGlyphs" font-size="17.2" stroke="#000" stroke-width="0.52">−.80</text><text class="t" x="1022.11" y="747.0" textLength="28.52" lengthAdjust="spacingAndGlyphs" font-size="17.2" stroke="#000" stroke-width="0.52">−2.</text><text class="t" x="1022.11" y="780.7" textLength="28.52" lengthAdjust="spacingAndGlyphs" font-size="17.2" stroke="#000" stroke-width="0.52">−7.</text><text class="t" x="1021.90" y="814.3" textLength="43.50" lengthAdjust="spacingAndGlyphs" font-size="17.2" stroke="#000" stroke-width="0.52">−20.</text></g>
</svg></body></html>
